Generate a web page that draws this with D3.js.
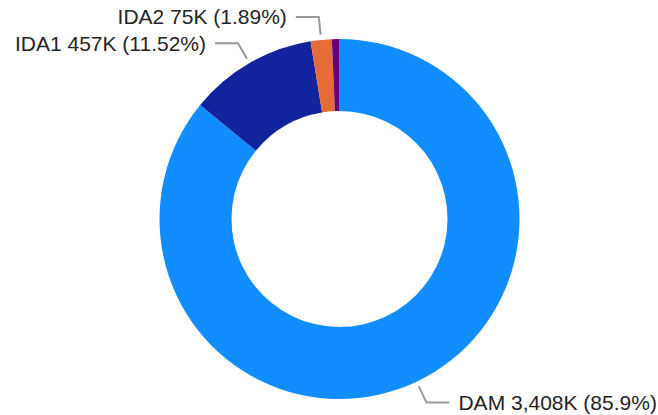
<!DOCTYPE html>
<html>
<head>
<meta charset="utf-8">
<script src="https://cdn.jsdelivr.net/npm/d3@7"></script>
<style>
  body { margin: 0; background: #fff; }
  text { font-family: "Liberation Sans", Arial, sans-serif; }
</style>
</head>
<body>
<div id="chart"></div>
<script>
const names = ["DAM", "IDA1", "IDA2", "IDA3"];
const values = [3408, 457, 75, 27];
const valueLabels = ["3,408K", "457K", "75K", "27K"];
const pctLabels = ["85.9%", "11.52%", "1.89%", "0.69%"];
const colors = ["#118DFF", "#12239E", "#E66C37", "#6B007B"];
const showLabel = [true, true, true, false];

const width = 658, height = 415;
const cx = 339.5, cy = 219;
const outerR = 180, innerR = 108;

const svg = d3.select("#chart").append("svg")
    .attr("width", width)
    .attr("height", height);

const g = svg.append("g")
    .attr("transform", `translate(${cx},${cy})`);

const pie = d3.pie().sort(null).value(d => d.value);
const data = names.map((n, i) => ({ name: n, value: values[i], i }));
const arcs = pie(data);

const arc = d3.arc().innerRadius(innerR).outerRadius(outerR);

g.selectAll("path.slice")
    .data(arcs)
    .enter().append("path")
    .attr("class", "slice")
    .attr("d", arc)
    .attr("fill", d => colors[d.data.i]);

// leader lines + labels
const r1 = outerR + 5, r2 = outerR + 23, hLen = 23;
const labeled = arcs.filter(d => showLabel[d.data.i]);

labeled.forEach(d => {
    const a = (d.startAngle + d.endAngle) / 2;
    const p1 = [Math.sin(a) * r1, -Math.cos(a) * r1];
    const p2 = [Math.sin(a) * r2, -Math.cos(a) * r2];
    const right = Math.sin(a) > 0;
    const p3 = [p2[0] + (right ? hLen : -hLen), p2[1]];

    g.append("polyline")
        .attr("points", [p1, p2, p3].map(p => p.join(",")).join(" "))
        .attr("fill", "none")
        .attr("stroke", "#999")
        .attr("stroke-width", 2);

    g.append("text")
        .attr("x", p3[0] + (right ? 9 : -9))
        .attr("y", p3[1])
        .attr("dy", "0.35em")
        .attr("text-anchor", right ? "start" : "end")
        .attr("fill", "#252423")
        .style("font-size", "21px")
        .text(`${d.data.name} ${valueLabels[d.data.i]} (${pctLabels[d.data.i]})`);
});
</script>
</body>
</html>
